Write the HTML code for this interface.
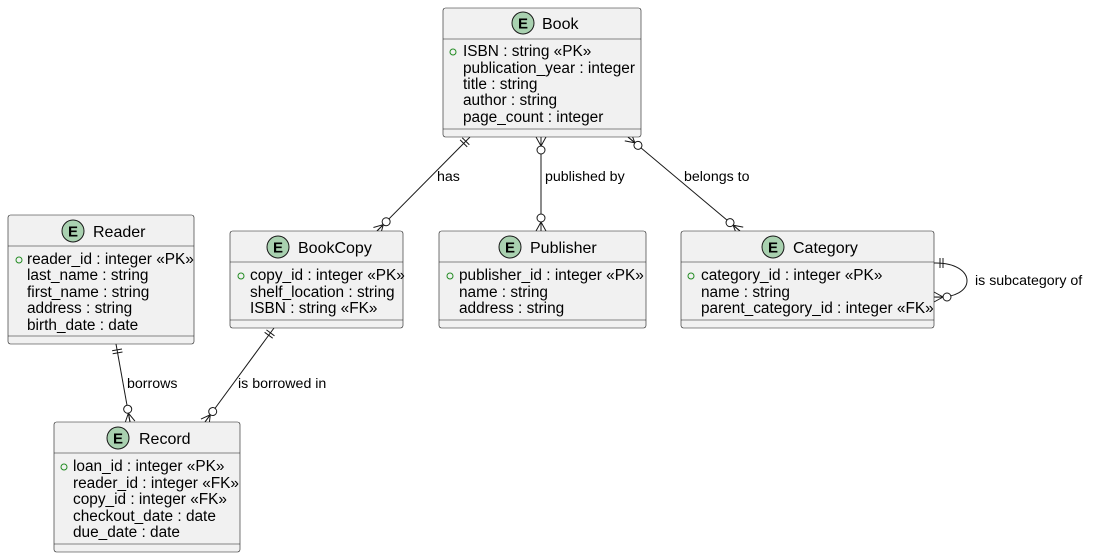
<!DOCTYPE html>
<html><head><meta charset="utf-8"><style>
html,body{margin:0;padding:0;background:#fff;}
svg{display:block;font-family:"Liberation Sans","DejaVu Sans",sans-serif;}
.box{fill:#f1f1f1;stroke:#181818;stroke-width:0.6;}
.sep{stroke:#181818;stroke-width:0.6;}
.t{font-size:15.4px;fill:#000;}
.h{font-size:16px;fill:#000;}
.l{font-size:14.2px;fill:#000;}
.ln{stroke:#181818;stroke-width:1;fill:none;}
</style></head><body>
<svg width="1096" height="558" viewBox="0 0 1096 558" xmlns="http://www.w3.org/2000/svg">
<defs>
<g id="one" class="ln"><line x1="6" y1="-5" x2="6" y2="5"/><line x1="9" y1="-5" x2="9" y2="5"/></g>
<g id="many"><path class="ln" d="M0,-5 L9,0 L0,5 M0,0 L9,0"/><circle cx="13" cy="0" r="4" fill="#fff" stroke="#181818" stroke-width="1"/></g>
<g id="E"><circle r="11" fill="#a9d1b0" stroke="#181818" stroke-width="1"/><text x="0" y="5.5" text-anchor="middle" font-size="15" font-weight="bold">E</text></g>
<g id="pk"><circle r="3" fill="none" stroke="#228b22" stroke-width="1"/></g>
</defs>

<line class="ln" x1="470" y1="137" x2="377" y2="231"/>
<line class="ln" x1="541" y1="137" x2="541" y2="231"/>
<line class="ln" x1="628" y1="137" x2="740" y2="231"/>
<line class="ln" x1="116" y1="344" x2="130" y2="422"/>
<line class="ln" x1="274" y1="328" x2="205" y2="422"/>
<path class="ln" d="M934,263 C978,262 978,300 934,297"/>

<use href="#one" transform="translate(470,137) rotate(134.7)"/>
<use href="#many" transform="translate(377,231) rotate(-45.3)"/>
<use href="#many" transform="translate(541,137) rotate(90)"/>
<use href="#many" transform="translate(541,231) rotate(-90)"/>
<use href="#many" transform="translate(628,137) rotate(40)"/>
<use href="#many" transform="translate(740,231) rotate(-140)"/>
<use href="#one" transform="translate(116,344) rotate(79.8)"/>
<use href="#many" transform="translate(130,422) rotate(-100.2)"/>
<use href="#one" transform="translate(274,328) rotate(126.3)"/>
<use href="#many" transform="translate(205,422) rotate(-53.7)"/>
<use href="#one" transform="translate(934,263) rotate(0)"/>
<use href="#many" transform="translate(934,297) rotate(0)"/>

<text class="l" x="437" y="181">has</text>
<text class="l" x="545" y="181">published by</text>
<text class="l" x="684" y="181">belongs to</text>
<text class="l" x="127" y="388">borrows</text>
<text class="l" x="238" y="388">is borrowed in</text>
<text class="l" x="975" y="285">is subcategory of</text>

<rect class="box" x="443" y="8" width="198" height="129" rx="2.5"/>
<line class="sep" x1="443" y1="39" x2="641" y2="39"/>
<line class="sep" x1="443" y1="129" x2="641" y2="129"/>
<use href="#E" transform="translate(523,23)"/>
<text class="h" x="542" y="29">Book</text>
<use href="#pk" transform="translate(453,52)"/>
<text class="t" x="463" y="56">ISBN : string «PK»</text>
<text class="t" x="463" y="73">publication_year : integer</text>
<text class="t" x="463" y="89">title : string</text>
<text class="t" x="463" y="105">author : string</text>
<text class="t" x="463" y="122">page_count : integer</text>

<rect class="box" x="8" y="215" width="186" height="129" rx="2.5"/>
<line class="sep" x1="8" y1="246" x2="194" y2="246"/>
<line class="sep" x1="8" y1="336" x2="194" y2="336"/>
<use href="#E" transform="translate(73,231)"/>
<text class="h" x="93" y="237">Reader</text>
<use href="#pk" transform="translate(19,260)"/>
<text class="t" x="27" y="264">reader_id : integer «PK»</text>
<text class="t" x="27" y="280">last_name : string</text>
<text class="t" x="27" y="297">first_name : string</text>
<text class="t" x="27" y="313">address : string</text>
<text class="t" x="27" y="330">birth_date : date</text>

<rect class="box" x="230" y="231" width="173" height="97" rx="2.5"/>
<line class="sep" x1="230" y1="262" x2="403" y2="262"/>
<line class="sep" x1="230" y1="320" x2="403" y2="320"/>
<use href="#E" transform="translate(278,247)"/>
<text class="h" x="298" y="253">BookCopy</text>
<use href="#pk" transform="translate(241,276)"/>
<text class="t" x="250" y="280">copy_id : integer «PK»</text>
<text class="t" x="250" y="297">shelf_location : string</text>
<text class="t" x="250" y="313">ISBN : string «FK»</text>

<rect class="box" x="439" y="231" width="207" height="97" rx="2.5"/>
<line class="sep" x1="439" y1="262" x2="646" y2="262"/>
<line class="sep" x1="439" y1="320" x2="646" y2="320"/>
<use href="#E" transform="translate(510,247)"/>
<text class="h" x="530" y="253">Publisher</text>
<use href="#pk" transform="translate(450,276)"/>
<text class="t" x="459" y="280">publisher_id : integer «PK»</text>
<text class="t" x="459" y="297">name : string</text>
<text class="t" x="459" y="313">address : string</text>

<rect class="box" x="681" y="231" width="253" height="97" rx="2.5"/>
<line class="sep" x1="681" y1="262" x2="934" y2="262"/>
<line class="sep" x1="681" y1="320" x2="934" y2="320"/>
<use href="#E" transform="translate(773,247)"/>
<text class="h" x="793" y="253">Category</text>
<use href="#pk" transform="translate(691,276)"/>
<text class="t" x="701" y="280">category_id : integer «PK»</text>
<text class="t" x="701" y="297">name : string</text>
<text class="t" x="701" y="313">parent_category_id : integer «FK»</text>

<rect class="box" x="54" y="422" width="186" height="130" rx="2.5"/>
<line class="sep" x1="54" y1="453" x2="240" y2="453"/>
<line class="sep" x1="54" y1="544" x2="240" y2="544"/>
<use href="#E" transform="translate(118,438)"/>
<text class="h" x="139" y="444">Record</text>
<use href="#pk" transform="translate(64,467)"/>
<text class="t" x="73" y="471">loan_id : integer «PK»</text>
<text class="t" x="73" y="488">reader_id : integer «FK»</text>
<text class="t" x="73" y="504">copy_id : integer «FK»</text>
<text class="t" x="73" y="521">checkout_date : date</text>
<text class="t" x="73" y="537">due_date : date</text>
</svg>
</body></html>
